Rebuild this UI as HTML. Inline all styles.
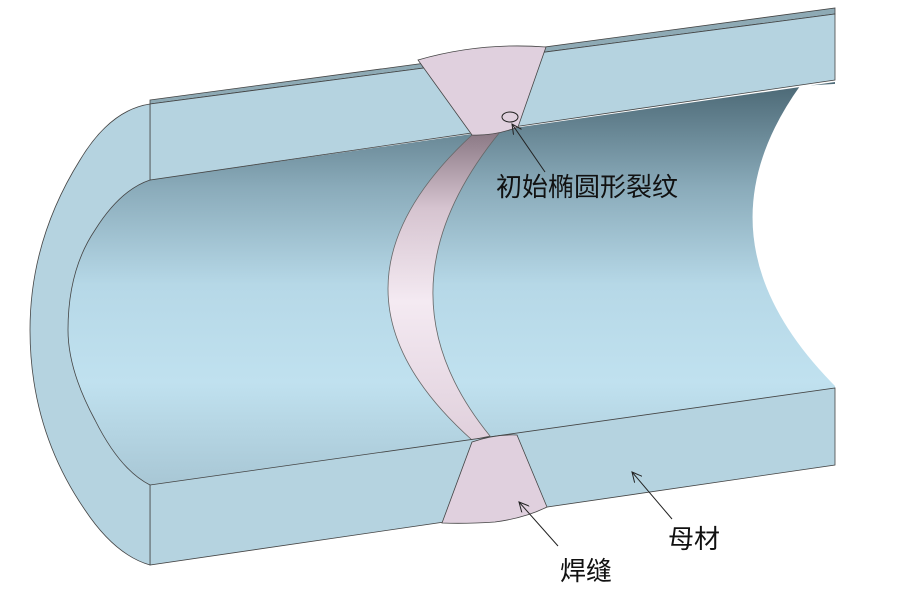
<!DOCTYPE html>
<html><head><meta charset="utf-8"><style>
html,body{margin:0;padding:0;background:#fff;}
svg{display:block;}
text{font-family:"Liberation Sans","Noto Sans CJK SC",sans-serif;font-size:26px;fill:#111;}
</style></head><body>
<svg width="900" height="600" viewBox="0 0 900 600" xmlns="http://www.w3.org/2000/svg">
<defs>
<linearGradient id="bore" gradientUnits="userSpaceOnUse" x1="0" y1="90" x2="0" y2="480">
<stop offset="0" stop-color="#4f6c79"/>
<stop offset="0.25" stop-color="#8aabba"/>
<stop offset="0.5" stop-color="#b6d8e7"/>
<stop offset="0.75" stop-color="#c0e1ef"/>
<stop offset="1" stop-color="#a9c8d6"/>
</linearGradient>
<linearGradient id="ring" x1="0" y1="0" x2="0" y2="1">
<stop offset="0" stop-color="#8a7884"/>
<stop offset="0.25" stop-color="#d6c4d0"/>
<stop offset="0.55" stop-color="#f4eaf2"/>
<stop offset="1" stop-color="#e0d0dc"/>
</linearGradient>
<marker id="ah" markerWidth="12" markerHeight="10" refX="10" refY="5" orient="auto" markerUnits="userSpaceOnUse">
<path d="M0,0 L10,5 L0,10" fill="none" stroke="#222" stroke-width="1"/>
</marker>
</defs>
<path d="M150,180 Q120,190 95,230 Q68,270 68,330 Q68,370 95,420 Q120,470 150,485 L835,390 L835,82 Z" fill="url(#bore)"/>
<path d="M800,86 Q690,240 835,386 L900,386 L900,80 Z" fill="#fff"/>
<path d="M472,135 Q304,290 472,440 L490,436 Q371,290 500,132 Z" fill="url(#ring)" stroke="#666" stroke-width="0.8"/>
<path d="M150,100 L835,8 L835,14 L150,104 Z" fill="#8eaab5" stroke="#444" stroke-width="0.8"/>
<path d="M150,104 L835,14 L835,80 L150,180 Z" fill="#b5d3e0" stroke="#444" stroke-width="0.8"/>
<path d="M418,60 Q480,42 546,47 L518,127 Q495,136 472,135 Z" fill="#e0d0de" stroke="#444" stroke-width="0.8"/>
<ellipse cx="510" cy="117" rx="8" ry="5" fill="none" stroke="#222" stroke-width="1"/>
<path d="M150,485 L835,388 L835,465 L150,565 Z" fill="#b5d3e0" stroke="#444" stroke-width="0.8"/>
<path d="M472,442 Q495,434 517,435 L547,507 Q525,518 495,522 Q465,524 442,523 Z" fill="#e0d0de" stroke="#444" stroke-width="0.8"/>
<path d="M150,104 Q110,110 80,160 Q30,240 30,330 Q30,430 85,510 Q115,555 150,565 L150,485 Q120,470 95,420 Q68,370 68,330 Q68,270 95,230 Q120,190 150,180 Z" fill="#b5d3e0" stroke="#444" stroke-width="0.8"/>
<line x1="545" y1="172" x2="512" y2="124" stroke="#222" stroke-width="1" marker-end="url(#ah)"/>
<text x="496" y="196">初始椭圆形裂纹</text>
<line x1="558" y1="546" x2="519" y2="502" stroke="#222" stroke-width="1" marker-end="url(#ah)"/>
<text x="560" y="580">焊缝</text>
<line x1="672" y1="519" x2="632" y2="472" stroke="#222" stroke-width="1" marker-end="url(#ah)"/>
<text x="668" y="548">母材</text>
</svg>
</body></html>
